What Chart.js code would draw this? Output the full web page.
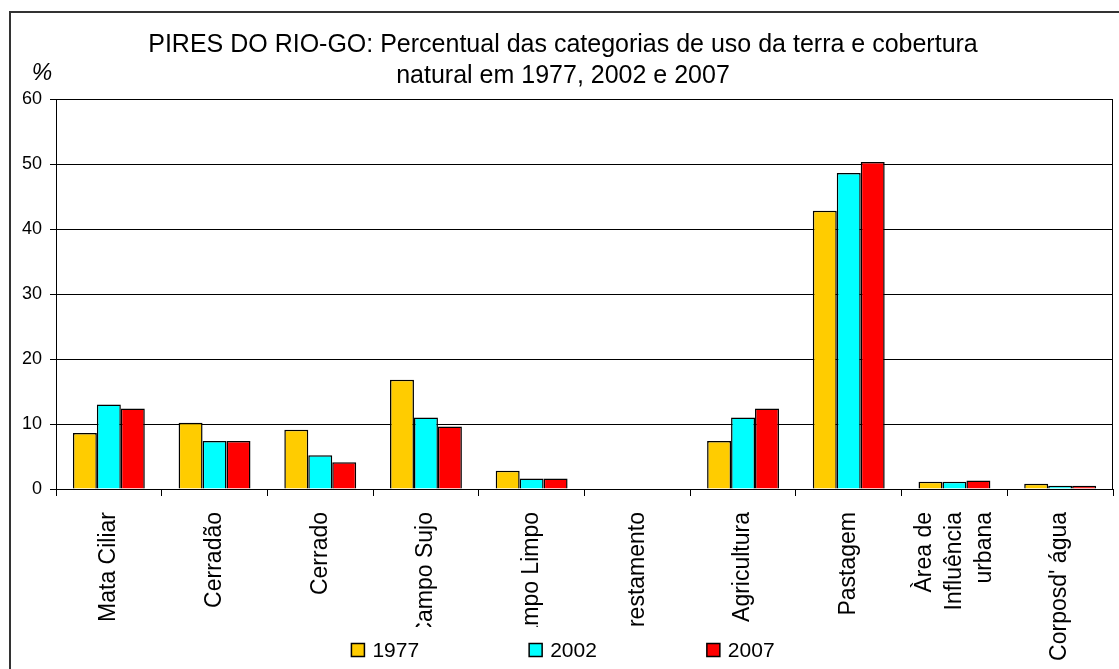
<!DOCTYPE html>
<html>
<head>
    <title>Pires do Rio - uso da terra</title>
    <script src="https://cdn.jsdelivr.net/npm/chart.js"></script>
    <style>
        body { margin: 0; background: #fff; }
        #frame { position: absolute; left: 9px; top: 11px; width: 1200px; height: 700px; border: 2px solid #333; }
        #box { position: absolute; left: 0; top: 0; width: 1119px; height: 669px; }
    </style>
</head>
<body>
    <div id="frame"></div>
    <div id="box"><canvas id="myChart"></canvas></div>

    <script>
        const categories = ['Mata Ciliar', 'Cerradão', 'Cerrado', 'Campo Sujo', 'Campo Limpo',
            'Reflorestamento', 'Agricultura', 'Pastagem', ['Àrea de', 'Influência', 'urbana'], "Corposd' água"];
        const years = ['1977', '2002', '2007'];
        const values1977 = [8.6, 10.2, 9.1, 16.8, 2.8, 0, 7.4, 42.8, 1.1, 0.8];
        const values2002 = [13.0, 7.4, 5.2, 11.0, 1.6, 0, 11.0, 48.6, 1.1, 0.5];
        const values2007 = [12.4, 7.4, 4.1, 9.6, 1.6, 0, 12.4, 50.3, 1.3, 0.5];
        const yTicks = [0, 10, 20, 30, 40, 50, 60];

        const FONT = '"Liberation Sans", Arial, sans-serif';
        const CLIP_Y = 627;

        // frame around the plot, "%" label, clipped category labels, legend
        const extras = {
            id: 'extras',
            beforeDraw(chart) {
                const ctx = chart.ctx;
                const x = chart.scales.x;
                // center the multi-line category label on its tick
                x.getLabelItems().forEach(it => {
                    if (Array.isArray(it.label) && !it._shifted) {
                        it.options.translation[0] -= (it.label.length - 1) / 2 * it.font.lineHeight;
                        it._shifted = true;
                    }
                });
                // long labels are cut off, as in the original (except the last one)
                const cut = x.getPixelForValue(9) - (x.getPixelForValue(9) - x.getPixelForValue(8)) / 2;
                ctx.save();
                ctx.beginPath();
                ctx.rect(0, 0, chart.width, CLIP_Y);
                ctx.rect(cut, CLIP_Y, chart.width - cut, chart.height - CLIP_Y);
                ctx.clip();
            },
            beforeDatasetsDraw(chart) {
                const a = chart.chartArea, ctx = chart.ctx;
                ctx.save();
                ctx.strokeStyle = '#000';
                ctx.lineWidth = 1;
                ctx.beginPath();
                ctx.moveTo(a.left, a.top + 0.5);
                ctx.lineTo(a.right - 0.5, a.top + 0.5);
                ctx.lineTo(a.right - 0.5, a.bottom);
                ctx.stroke();
                ctx.restore();
            },
            afterDraw(chart) {
                const ctx = chart.ctx;
                ctx.restore();
                ctx.save();
                ctx.fillStyle = '#000';
                ctx.font = 'italic 23px ' + FONT;
                ctx.textAlign = 'center';
                ctx.textBaseline = 'middle';
                ctx.fillText('%', 42, 74);

                // legend
                ctx.font = '21px ' + FONT;
                ctx.textAlign = 'left';
                const box = 13, gapText = 8, gapItem = 110;
                const sets = chart.data.datasets;
                const widths = sets.map(d => box + gapText + ctx.measureText(d.label).width);
                const total = widths.reduce((s, w) => s + w, 0) + gapItem * (sets.length - 1);
                let cx = 563 - total / 2;
                const cy = 650;
                sets.forEach((d, i) => {
                    ctx.fillStyle = d.backgroundColor;
                    ctx.fillRect(cx, cy - box / 2, box, box);
                    ctx.strokeStyle = '#000';
                    ctx.lineWidth = 1.5;
                    ctx.strokeRect(cx, cy - box / 2, box, box);
                    ctx.fillStyle = '#000';
                    ctx.fillText(d.label, cx + box + gapText, cy + 1);
                    cx += widths[i] + gapItem;
                });
                ctx.restore();
            }
        };

        const barStyle = { borderColor: '#000', borderWidth: 1.5, categoryPercentage: 0.68, barPercentage: 1.0 };

        const ctx = document.getElementById('myChart').getContext('2d');
        const chart = new Chart(ctx, {
            type: 'bar',
            data: {
                labels: categories,
                datasets: [
                    { label: years[0], data: values1977, backgroundColor: '#FFCC00', ...barStyle },
                    { label: years[1], data: values2002, backgroundColor: '#00FFFF', ...barStyle },
                    { label: years[2], data: values2007, backgroundColor: '#FF0000', ...barStyle }
                ]
            },
            options: {
                animation: false,
                responsive: true,
                maintainAspectRatio: false,
                layout: { padding: { left: 13, right: 6, top: 0, bottom: 5 } },
                plugins: {
                    legend: { display: false },
                    tooltip: { enabled: false },
                    title: {
                        display: true,
                        text: ['PIRES DO RIO-GO: Percentual das categorias de uso da terra e cobertura',
                               'natural em 1977, 2002 e 2007'],
                        color: '#000',
                        font: { family: FONT, size: 25, weight: 'normal', lineHeight: 1.22 },
                        padding: { top: 30, bottom: 8 }
                    }
                },
                scales: {
                    x: {
                        offset: true,
                        grid: { offset: true, drawOnChartArea: false, drawTicks: true, tickLength: 7, color: '#000' },
                        border: { color: '#000', width: 1 },
                        ticks: {
                            color: '#000', autoSkip: false, maxRotation: 90, minRotation: 90, padding: 16,
                            font: { family: FONT, size: 23, lineHeight: 1.3 }
                        },
                        afterFit(s) { s.height = 175; }
                    },
                    y: {
                        min: 0, max: 60,
                        afterBuildTicks(s) { s.ticks = yTicks.map(v => ({ value: v })); },
                        grid: { color: '#000', lineWidth: 1, tickLength: 6 },
                        border: { color: '#000', width: 1 },
                        ticks: { color: '#000', padding: 8, font: { family: FONT, size: 18 } },
                        afterFit(s) { s.width = 43; }
                    }
                }
            },
            plugins: [extras]
        });
    </script>
</body>
</html>
